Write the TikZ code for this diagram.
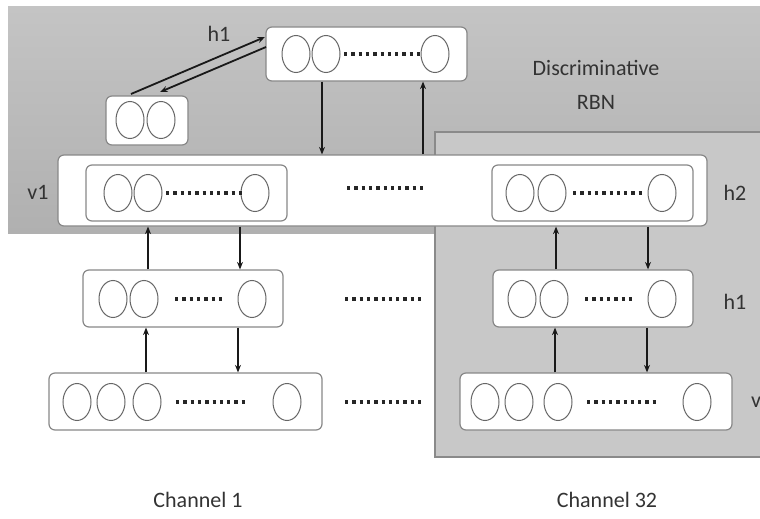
\documentclass[tikz,border=0pt]{standalone}
\usepackage{fontspec}
\setmainfont{Carlito}
\usetikzlibrary{arrows.meta,shapes.geometric}
\definecolor{txt}{HTML}{333333}
\definecolor{boxline}{HTML}{888888}
\definecolor{neur}{HTML}{666666}
\definecolor{regtop}{HTML}{C4C4C4}
\definecolor{regbot}{HTML}{B0B0B0}
\definecolor{chfill}{HTML}{C8C8C8}
\definecolor{chline}{HTML}{8A8A8A}
\tikzset{
  layerbox/.style={draw=boxline,line width=1.2pt,fill=white,rounded corners=6pt,inner sep=0pt},
  neuron/.style={ellipse,draw=neur,line width=1pt,minimum width=28pt,minimum height=37pt,inner sep=0pt},
  dotrow/.style={line width=3.3pt,dash pattern=on 3.3pt off 4pt,black!85},
  arr/.style={line width=1.8pt,black!90,-{Stealth[length=7.5pt,width=6pt]}},
  lbl/.style={font=\fontsize{22}{25}\selectfont,text=txt,inner sep=0pt}
}
\begin{document}
\begin{tikzpicture}[x=1pt,y=-1pt]
\useasboundingbox (0,0) rectangle (760,519);
\fill[white] (0,0) rectangle (760,519);
% regions
\shade[top color=regtop,bottom color=regbot] (8,7) rectangle (775,233);
\draw[fill=chfill,draw=chline,line width=1.2pt] (775,132) -- (435,132) -- (435,457) -- (775,457);

% layer boxes
\node[layerbox,minimum width=649pt,minimum height=71pt] (band) at (382.5,190.5) {};
\node[layerbox,minimum width=201pt,minimum height=56pt] (bandL) at (186.5,193) {};
\node[layerbox,minimum width=201pt,minimum height=56pt] (bandR) at (592.5,193) {};
\node[layerbox,minimum width=201pt,minimum height=54pt] (toph) at (366.5,54) {};
\node[layerbox,minimum width=82pt,minimum height=49pt] (small) at (147,120.5) {};
\node[layerbox,minimum width=200pt,minimum height=57pt] (ah) at (183,298.5) {};
\node[layerbox,minimum width=273pt,minimum height=57pt] (av) at (185.5,401.5) {};
\node[layerbox,minimum width=200pt,minimum height=57pt] (bh) at (593,298.5) {};
\node[layerbox,minimum width=272pt,minimum height=57pt] (bv) at (596,401.5) {};

% neurons
\foreach \x/\n in {118/1,148/2,255/3} \node[neuron] (bl\n) at (\x,193) {};
\foreach \x/\n in {520/1,552/2,662/3} \node[neuron] (br\n) at (\x,193) {};
\foreach \x/\n in {296/1,326/2,435/3} \node[neuron] (th\n) at (\x,54) {};
\foreach \x/\n in {130/1,161/2} \node[neuron] (sm\n) at (\x,120) {};
\foreach \x/\n in {113/1,144/2,252/3} \node[neuron] (ah\n) at (\x,299) {};
\foreach \x/\n in {77/1,111/2,147/3,287/4} \node[neuron] (av\n) at (\x,402) {};
\foreach \x/\n in {522/1,554/2,662/3} \node[neuron] (bh\n) at (\x,299) {};
\foreach \x/\n in {485/1,519/2,558/3,697/4} \node[neuron] (bv\n) at (\x,402) {};

% dot rows
\draw[dotrow] (166,193) -- (242,193);
\draw[dotrow] (573,193) -- (643,193);
\draw[dotrow] (344,54) -- (422,54);
\draw[dotrow] (175,299) -- (225,299);
\draw[dotrow] (176,402) -- (248,402);
\draw[dotrow] (585,299) -- (636,299);
\draw[dotrow] (587,402) -- (659,402);
\draw[dotrow] (347,188) -- (427,188);
\draw[dotrow] (345,299) -- (424,299);
\draw[dotrow] (345,402) -- (424,402);

% connectors
\coordinate (s1) at (131,94);
\coordinate (t1) at (265,37);
\coordinate (t2) at (266,47);
\coordinate (s2) at (160,92);
\draw[arr] (s1) -- (t1);
\draw[arr] (t2) -- (s2);
\draw[arr] (toph.south -| 322,0) -- (band.north -| 322,0);
\draw[arr] (band.north -| 423,0) -- (toph.south -| 423,0);
\draw[arr] (ah.north -| 148,0) -- (band.south -| 148,0);
\draw[arr] (band.south -| 240,0) -- (ah.north -| 240,0);
\draw[arr] (av.north -| 146,0) -- (ah.south -| 146,0);
\draw[arr] (ah.south -| 238,0) -- (av.north -| 238,0);
\draw[arr] (bh.north -| 556,0) -- (band.south -| 556,0);
\draw[arr] (band.south -| 648,0) -- (bh.north -| 648,0);
\draw[arr] (bv.north -| 555,0) -- (bh.south -| 555,0);
\draw[arr] (bh.south -| 647,0) -- (bv.north -| 647,0);

% labels
\node[lbl] (lh1) at (219,34) {h1};
\node[lbl] (lv1) at (38,192) {v1};
\node[lbl] (lh2) at (735,193) {h2};
\node[lbl] (rh1) at (735,302) {h1};
\node[lbl,anchor=west] (rv1) at (751,400) {v1};
\node[lbl] (disc) at (596,68) {Discriminative};
\node[lbl] (rbn) at (596,102) {RBN};
\node[lbl] (ch1) at (198,500) {Channel 1};
\node[lbl] (ch32) at (607,500) {Channel 32};
\end{tikzpicture}
\end{document}
